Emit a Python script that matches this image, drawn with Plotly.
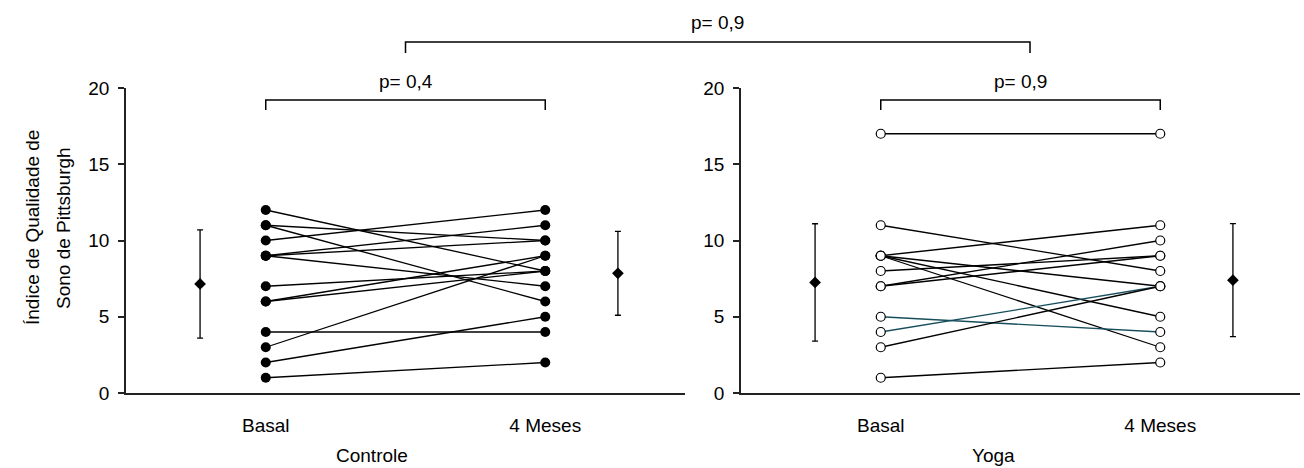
import plotly.graph_objects as go

# ---------------- data ----------------
categories = ["Basal", "4 Meses"]
groups = ["Controle", "Yoga"]

controle_basal = [12, 11, 11, 10, 9, 9, 9, 7, 6, 6, 4, 3, 2, 1]
controle_4meses = [8, 10, 6, 12, 11, 10, 7, 8, 9, 8, 4, 9, 5, 2]

yoga_basal = [17, 11, 9, 9, 9, 9, 8, 7, 7, 5, 4, 3, 1]
yoga_4meses = [17, 8, 11, 7, 5, 3, 9, 10, 9, 4, 7, 7, 2]
yoga_teal_idx = [9, 10]

controle_media = [7.15, 7.85]
controle_dp = [3.55, 2.75]
yoga_media = [7.25, 7.4]
yoga_dp = [3.85, 3.7]

p_controle = "p= 0,4"
p_yoga = "p= 0,9"
p_entre = "p= 0,9"

y_ticks = [0, 5, 10, 15, 20]
y_title = ["Índice de Qualidade de", "Sono de Pittsburgh"]

# ---------------- layout constants ----------------
W, H = 1304, 468
TOP, BOT = 88, 393
FONT = "Arial, Liberation Sans, sans-serif"
FS = 19
dom1 = [126 / W, 685 / W]
dom2 = [741 / W, 1300 / W]
xpos = [1, 2]
xr = [0.5, 2.5]
mean_off = [-0.235, 0.26]
TEAL = "#184e5c"


def py(p):
    return (BOT - p) / (BOT - TOP)


def xdomfrac(v):
    return (v - xr[0]) / (xr[1] - xr[0])


fig = go.Figure()


def add_group(basal, meses, xa, ya, filled, teal_idx, media, dp):
    for i, (b, m) in enumerate(zip(basal, meses)):
        col = TEAL if i in teal_idx else "black"
        fig.add_trace(go.Scatter(x=xpos, y=[b, m], mode="lines",
                                 line=dict(color=col, width=1.3),
                                 xaxis=xa, yaxis=ya, hoverinfo="skip", showlegend=False))
    n = len(basal)
    if filled:
        mk = dict(symbol="circle", size=10, color="black", line=dict(width=0))
    else:
        mk = dict(symbol="circle", size=9, color="white", line=dict(color="black", width=1.2))
    fig.add_trace(go.Scatter(x=[xpos[0]] * n + [xpos[1]] * n, y=list(basal) + list(meses),
                             mode="markers", marker=mk, xaxis=xa, yaxis=ya,
                             showlegend=False))
    fig.add_trace(go.Scatter(x=[xpos[0] + mean_off[0], xpos[1] + mean_off[1]], y=media,
                             mode="markers",
                             marker=dict(symbol="diamond", size=9, color="black"),
                             error_y=dict(type="data", array=dp, visible=True, color="black",
                                          thickness=1.3, width=3),
                             xaxis=xa, yaxis=ya, showlegend=False))


add_group(controle_basal, controle_4meses, "x", "y", True, [], controle_media, controle_dp)
add_group(yoga_basal, yoga_4meses, "x2", "y2", False, yoga_teal_idx, yoga_media, yoga_dp)

axcol = "#222222"
xcommon = dict(range=xr, showline=True, linecolor=axcol, linewidth=1.5, ticks="",
               tickvals=xpos, ticktext=categories, showgrid=False, zeroline=False,
               tickfont=dict(family=FONT, size=FS, color="black"), ticklabelstandoff=14,
               fixedrange=True)
ycommon = dict(range=[0, 20], tickvals=y_ticks, ticks="outside", ticklen=6, tickwidth=1.5,
               tickcolor=axcol, showline=True, linecolor=axcol, linewidth=1.5,
               showgrid=False, zeroline=False, ticklabelstandoff=5,
               tickfont=dict(family=FONT, size=FS, color="black"))

fig.update_layout(
    width=W, height=H,
    margin=dict(l=0, r=0, t=TOP, b=H - BOT),
    paper_bgcolor="white", plot_bgcolor="white",
    xaxis=dict(domain=dom1, anchor="y", **xcommon),
    yaxis=dict(domain=[0, 1], anchor="x", **ycommon),
    xaxis2=dict(domain=dom2, anchor="y2", **xcommon),
    yaxis2=dict(domain=[0, 1], anchor="x2", **ycommon),
    showlegend=False,
)

ann = []
shapes = []
lw = dict(color="black", width=1.5)
tfont = dict(family=FONT, size=FS, color="black")


def text(txt, x, y, xref="paper", angle=0):
    ann.append(dict(text=txt, x=x, y=y, xref=xref, yref="paper", showarrow=False,
                    xanchor="center", yanchor="middle", textangle=angle, font=tfont))


# group titles
text(groups[0], 372 / W, py(455))
text(groups[1], 993 / W, py(455))

# y-axis title (two lines)
for txt, xp in zip(y_title, [32, 63]):
    text(txt, xp / W, py(228), angle=-90)

# within-group brackets
for xref, txt in [("x domain", p_controle), ("x2 domain", p_yoga)]:
    x0, x1 = xdomfrac(xpos[0]), xdomfrac(xpos[1])
    shapes.append(dict(type="path", xref=xref, yref="paper",
                       path=f"M {x0},{py(110)} L {x0},{py(100)} L {x1},{py(100)} L {x1},{py(110)}",
                       line=lw))
    text(txt, (x0 + x1) / 2, py(81), xref=xref)

# between-group bracket
bx0 = dom1[0] + (dom1[1] - dom1[0]) * xdomfrac(1.5)
bx1 = 1030 / W
shapes.append(dict(type="path", xref="paper", yref="paper",
                   path=f"M {bx0},{py(53)} L {bx0},{py(42)} L {bx1},{py(42)} L {bx1},{py(53)}",
                   line=lw))
text(p_entre, (bx0 + bx1) / 2, py(22))

fig.update_layout(annotations=ann, shapes=shapes)
fig.write_html("out.html")
